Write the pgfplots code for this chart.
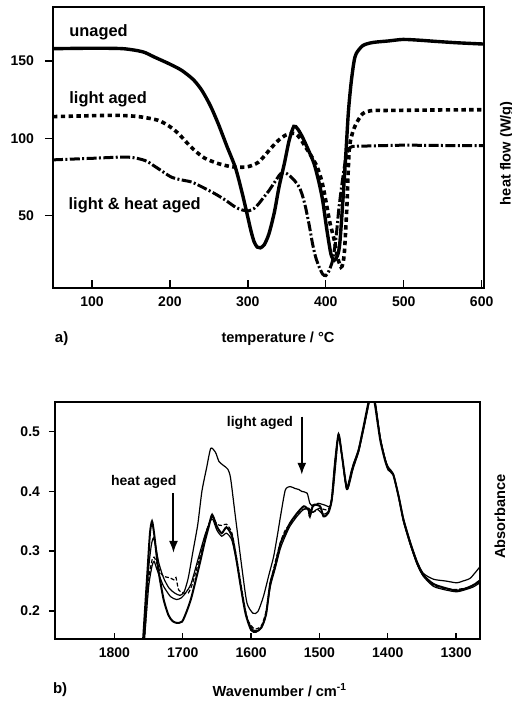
\documentclass[border=0pt]{standalone}
\usepackage{fontspec}
\setmainfont{Liberation Sans}
\usepackage{pgfplots}
\pgfplotsset{compat=1.18}
\usetikzlibrary{arrows.meta}

\pgfplotsset{
  panel/.style={
    scale only axis,
    axis line style={line width=0.85pt},
    every tick/.style={black, line width=0.7pt},
    major tick length=4pt,
    xtick pos=bottom, ytick pos=left,
    xtick align=inside, ytick align=outside,
    /pgf/number format/assume math mode=true,
    /pgf/number format/set thousands separator={},
    tick label style={font=\bfseries\fontsize{7}{8}\selectfont},
    xticklabel style={yshift=-1pt},
    label style={font=\bfseries\fontsize{7.3}{8}\selectfont},
    clip mode=individual,
  },
}

\begin{document}
\begin{tikzpicture}
\path[use as bounding box] (0pt,0pt) rectangle (256pt,-351.5pt);

% ---------- a) DSC ----------
\begin{axis}[panel,
    at={(26.5pt,-144pt)}, anchor=south west,
    width=215.5pt, height=140.5pt,
    xmin=50, xmax=603, ymin=3, ymax=185,
    xtick={100,200,300,400,500,600},
    ytick={50,100,150},
    xlabel={temperature / \textdegree C},
    ylabel={heat flow (W/g)},
    xlabel style={at={(axis description cs:0.522,-0.179)}, anchor=center},
    ylabel style={at={(axis description cs:1.053,0.48)}, anchor=center},
    yticklabel style={xshift=-2pt},
]
% unaged
\addplot[black, line width=1.7pt, smooth, tension=0.45] coordinates {
(50,158)(100,158.3)(140,158)(165,156)(180,152.6)(200,148)(215,144)(230,138)(241,131)(252,121)
(262,109.4)(273,95)(284,81)(292,66)(299,51)(304,40)(308,33)(312,29.5)(316,29)(321,31)(327,38)
(334,52)(340,68.4)(347,84)(353,98.6)(359,107.7)(364,106)(370,100.8)(378,92)(385,83.5)(391,72)
(396,59.7)(401,42)(406.6,25)(411,21)(415,24)(418,32)(422,60)(426,92)(429,117)(432.4,135.4)
(436,149)(439,154.8)(447.5,160)(460,162)(480,163)(499,164)(520,163.5)(542,162.7)(570,161.8)(603,161)
};
% light aged
\addplot[black, line width=1.8pt, dash pattern=on 2.2pt off 1.7pt, smooth, tension=0.45] coordinates {
(50,114)(100,114.6)(133.6,114.8)(160,114)(185,111.6)(200,107.5)(211,103)(222,97)(232,92)(245,87)
(262.6,83.5)(280,81.5)(297,81.3)(306,82.5)(314,84.6)(322,89)(331,94.3)(340,99)(348.5,102)(355,103)
(361,103)(367,100)(374,94.3)(382,88)(389,81.3)(395,72)(400,59.7)(405,46)(411,33.8)(415,23)
(419.5,16.5)(422,19)(424,27)(427,55)(430,92)(434,103)(439,109.4)(447.5,116)(460,118)(477.5,118)
(540,118.3)(603,118.5)
};
% light & heat aged
\addplot[black, line width=1.5pt, dash pattern=on 5pt off 1.2pt on 1pt off 1.2pt, smooth, tension=0.45] coordinates {
(50,86)(100,87)(146,87.8)(168,85.6)(180,82)(189,79)(202,74.8)(215,73)(228,71.6)(243,68)
(258,64)(271,60)(284,55.4)(293,53.5)(301,53)(308,54.5)(314,57.6)(320,61.5)(327,66)(335,72)
(342,77)(348,77.5)(353,76)(360,72.5)(366,68.3)(370,63)(374,55.4)(379,43)(383,31.7)(387,23)
(391.6,16.5)(396,12)(400,11)(404,14)(408.8,21)(413,35)(417,55.4)(422,75)(426,87.8)(430,93)
(434.6,94.7)(456,95)(500,95.5)(550,95.3)(603,95.2)
};
\node[anchor=west, font=\bfseries\fontsize{8.2}{9}\selectfont] at (axis cs:62,168.4) {unaged};
\node[anchor=west, font=\bfseries\fontsize{8.2}{9}\selectfont] at (axis cs:62,125) {light aged};
\node[anchor=west, font=\bfseries\fontsize{8.2}{9}\selectfont] at (axis cs:61,56.5) {light \& heat aged};
\node[anchor=center, font=\bfseries\fontsize{7.5}{8}\selectfont] at (axis description cs:0.02,-0.179) {a)};
\end{axis}

% ---------- b) FTIR ----------
\begin{axis}[panel,
    at={(27.5pt,-319.5pt)}, anchor=south west,
    width=212.5pt, height=118.65pt,
    x dir=reverse,
    xmin=1265, xmax=1887, ymin=0.153, ymax=0.55,
    xtick={1300,1400,1500,1600,1700,1800},
    ytick={0.2,0.3,0.4,0.5},
    yticklabel style={/pgf/number format/fixed, /pgf/number format/precision=1, xshift=-1pt},
    major tick length=3pt,
    xlabel={Wavenumber / cm\textsuperscript{-1}},
    ylabel={Absorbance},
    xlabel style={at={(axis description cs:0.529,-0.215)}, anchor=center},
    ylabel style={at={(axis description cs:1.047,0.515)}, anchor=center},
]
% unaged (bold)
\addplot[black, line width=1pt, smooth, tension=0.4] coordinates {
(1761,0.10)(1758,0.153)(1752,0.26)(1748,0.33)(1745,0.35)(1742,0.33)(1738,0.29)(1735,0.263)(1728,0.219)
(1721,0.193)(1715,0.183)(1709,0.180)(1701,0.182)(1694,0.200)(1687,0.224)(1675,0.280)(1668,0.315)
(1662,0.341)(1657,0.361)(1650,0.341)(1643,0.330)(1636,0.340)(1628,0.325)(1622,0.29)(1615,0.24)
(1608,0.195)(1600,0.168)(1593,0.165)(1585,0.172)(1578,0.195)(1572,0.246)(1565,0.274)(1557,0.313)
(1550,0.330)(1543,0.347)(1533,0.363)(1523,0.375)(1516,0.369)(1514,0.358)(1509,0.377)(1499,0.375)
(1494,0.358)(1487,0.364)(1482,0.386)(1477,0.45)(1472,0.495)(1467,0.46)(1460,0.405)(1455,0.42)
(1450,0.445)(1443,0.467)(1436,0.505)(1428,0.55)(1423,0.57)(1418,0.54)(1411,0.486)(1404,0.452)
(1399,0.436)(1392,0.428)(1384,0.391)(1377,0.352)(1367,0.313)(1357,0.28)(1348,0.26)(1333,0.245)
(1315,0.238)(1299,0.234)(1285,0.238)(1275,0.243)(1265,0.25)
};
% light aged (upper)
\addplot[black, line width=0.6pt, smooth, tension=0.4] coordinates {
(1760,0.10)(1757,0.153)(1750,0.27)(1746,0.31)(1743,0.322)(1740,0.31)(1735,0.28)(1728,0.255)(1720,0.238)
(1712,0.23)(1704,0.226)(1698,0.232)(1692,0.255)(1685,0.30)(1678,0.345)(1672,0.40)(1665,0.44)
(1659,0.472)(1652,0.465)(1647,0.450)(1640,0.443)(1634,0.437)(1630,0.422)(1623,0.358)(1613,0.268)
(1606,0.213)(1597,0.196)(1590,0.199)(1582,0.224)(1574,0.26)(1567,0.291)(1561,0.33)(1557,0.358)
(1550,0.402)(1543,0.408)(1536,0.405)(1530,0.403)(1526,0.400)(1518,0.397)(1514,0.380)(1509,0.375)
(1502,0.380)(1492,0.377)(1484,0.375)(1480,0.40)(1475,0.46)(1472,0.497)(1467,0.46)(1460,0.408)
(1453,0.436)(1443,0.47)(1436,0.505)(1428,0.548)(1423,0.58)(1417,0.54)(1411,0.49)(1404,0.455)
(1399,0.44)(1392,0.43)(1384,0.393)(1377,0.355)(1367,0.316)(1357,0.283)(1348,0.263)(1333,0.253)
(1315,0.25)(1299,0.247)(1290,0.25)(1279,0.255)(1265,0.274)
};
% heat aged (dashed)
\addplot[black, line width=0.6pt, dash pattern=on 2pt off 1pt, smooth, tension=0.4] coordinates {
(1760,0.10)(1756,0.153)(1750,0.25)(1745,0.285)(1742,0.29)(1738,0.28)(1733,0.265)(1728,0.258)
(1718,0.255)(1713,0.252)(1710,0.256)(1706,0.235)(1699,0.23)(1692,0.23)(1686,0.245)(1675,0.29)
(1665,0.335)(1657,0.357)(1650,0.345)(1643,0.343)(1636,0.345)(1628,0.33)(1620,0.28)(1612,0.225)
(1605,0.185)(1595,0.17)(1585,0.175)(1578,0.2)(1572,0.245)(1565,0.28)(1557,0.315)(1550,0.335)
(1540,0.35)(1530,0.365)(1523,0.37)(1516,0.372)(1510,0.365)(1505,0.368)(1500,0.372)(1494,0.37)
(1487,0.37)(1482,0.39)(1477,0.45)(1472,0.495)(1467,0.458)(1460,0.404)(1453,0.432)(1443,0.466)
(1436,0.502)(1428,0.546)(1423,0.58)(1418,0.543)(1411,0.488)(1404,0.453)(1399,0.437)(1392,0.428)
(1384,0.39)(1377,0.351)(1367,0.312)(1357,0.279)(1348,0.259)(1333,0.243)(1315,0.237)(1299,0.236)
(1280,0.24)(1265,0.252)
};
% light & heat aged
\addplot[black, line width=0.6pt, smooth, tension=0.4] coordinates {
(1760,0.10)(1756,0.153)(1750,0.24)(1745,0.275)(1742,0.283)(1738,0.27)(1733,0.255)(1728,0.241)
(1718,0.224)(1709,0.219)(1702,0.222)(1696,0.23)(1688,0.245)(1678,0.285)(1668,0.325)(1660,0.35)
(1656,0.353)(1650,0.335)(1643,0.325)(1636,0.33)(1628,0.318)(1620,0.275)(1612,0.22)(1605,0.185)
(1597,0.168)(1588,0.168)(1580,0.185)(1572,0.24)(1565,0.27)(1557,0.305)(1550,0.325)(1543,0.342)
(1533,0.358)(1523,0.37)(1516,0.37)(1510,0.365)(1503,0.37)(1495,0.362)(1488,0.365)(1482,0.385)
(1477,0.45)(1472,0.493)(1467,0.458)(1460,0.403)(1453,0.43)(1443,0.465)(1436,0.5)(1428,0.545)
(1423,0.58)(1418,0.545)(1411,0.49)(1404,0.455)(1399,0.438)(1392,0.428)(1384,0.39)(1377,0.35)
(1367,0.311)(1357,0.278)(1348,0.258)(1333,0.241)(1315,0.235)(1299,0.232)(1285,0.236)(1275,0.24)
(1265,0.247)
};
\draw[black, line width=1pt, -{Latex[length=6pt,width=4.5pt]}] (axis cs:1713.6,0.397) -- (axis cs:1713.6,0.297);
\draw[black, line width=1pt, -{Latex[length=6pt,width=4.5pt]}] (axis cs:1525.8,0.525) -- (axis cs:1525.8,0.4276);
\node[font=\bfseries\fontsize{7}{8}\selectfont] at (axis cs:1757,0.416) {heat aged};
\node[font=\bfseries\fontsize{7}{8}\selectfont] at (axis cs:1587,0.514) {light aged};
\node[anchor=center, font=\bfseries\fontsize{7.5}{8}\selectfont] at (axis description cs:0.012,-0.215) {b)};
\end{axis}
\end{tikzpicture}
\end{document}
